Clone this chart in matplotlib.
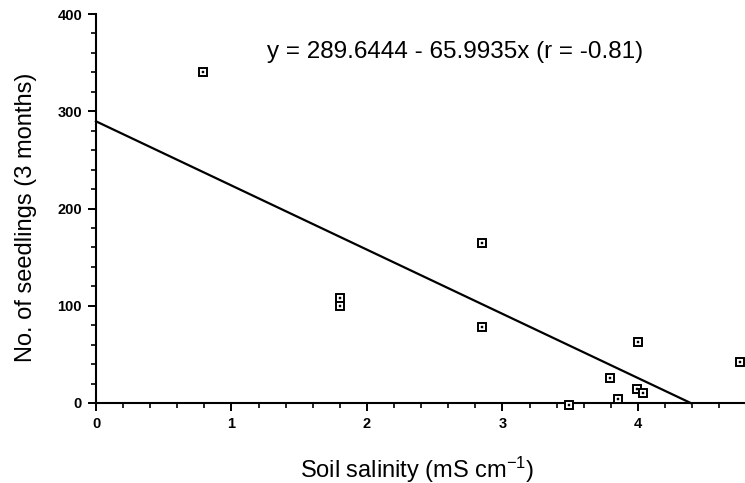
import matplotlib
matplotlib.use("Agg")
import matplotlib.pyplot as plt
from matplotlib.ticker import MultipleLocator
import numpy as np

plt.rcParams['font.family'] = ['Liberation Sans', 'DejaVu Sans']
plt.rcParams['mathtext.default'] = 'regular'

# Data
salinity = [0.79, 1.80, 1.80, 2.85, 2.85, 3.49, 3.79, 3.85, 3.99, 4.00, 4.04, 4.75]
seedlings = [340, 108, 100, 165, 78, -2, 26, 4, 14, 63, 10, 42]

intercept = 289.6444
slope = -65.9935
equation = "y = 289.6444 - 65.9935x (r = -0.81)"

x_ticks = [0, 1, 2, 3, 4]
y_ticks = [0, 100, 200, 300, 400]

fig = plt.figure(figsize=(7.45, 4.83), dpi=100)
ax = fig.add_axes([96/745, 1-403/483, 1-96/745, (403-14)/483])

ax.set_xlim(0, 4.79)
ax.set_ylim(0, 400)

# regression line from x=0 until it reaches y=0
x_end = -intercept / slope
xl = np.array([0, x_end])
ax.plot(xl, intercept + slope * xl, color='black', lw=1.6, clip_on=False, zorder=3)

ax.plot(salinity, seedlings, ls='none', marker='s', ms=6, mfc='white',
        mec='black', mew=1.4, clip_on=False, zorder=4)
ax.plot(salinity, seedlings, ls='none', marker='s', ms=1.6, mfc='black',
        mec='black', mew=0.3, clip_on=False, zorder=5)

ax.text(0.553, 0.902, equation, transform=ax.transAxes, ha='center', va='center',
        fontsize=17.5)

for s in ['top', 'right']:
    ax.spines[s].set_visible(False)
for s in ['left', 'bottom']:
    ax.spines[s].set_linewidth(1.5)

ax.set_xticks(x_ticks)
ax.set_yticks(y_ticks)
ax.xaxis.set_minor_locator(MultipleLocator(0.2))
ax.yaxis.set_minor_locator(MultipleLocator(20))
ax.tick_params(which='major', direction='out', length=6, width=1.4, labelsize=10.5, pad=4)
ax.tick_params(which='minor', direction='out', length=3.5, width=1.2)
for lab in ax.get_xticklabels() + ax.get_yticklabels():
    lab.set_fontweight('bold')

ax.set_xlabel("Soil salinity (mS cm$^{-1}$)", fontsize=17)
ax.set_ylabel("No. of seedlings (3 months)", fontsize=17)
ax.xaxis.set_label_coords(0.495, -0.132)
ax.yaxis.set_label_coords(-0.091, 0.478)

fig.savefig("out.png", dpi=100)
